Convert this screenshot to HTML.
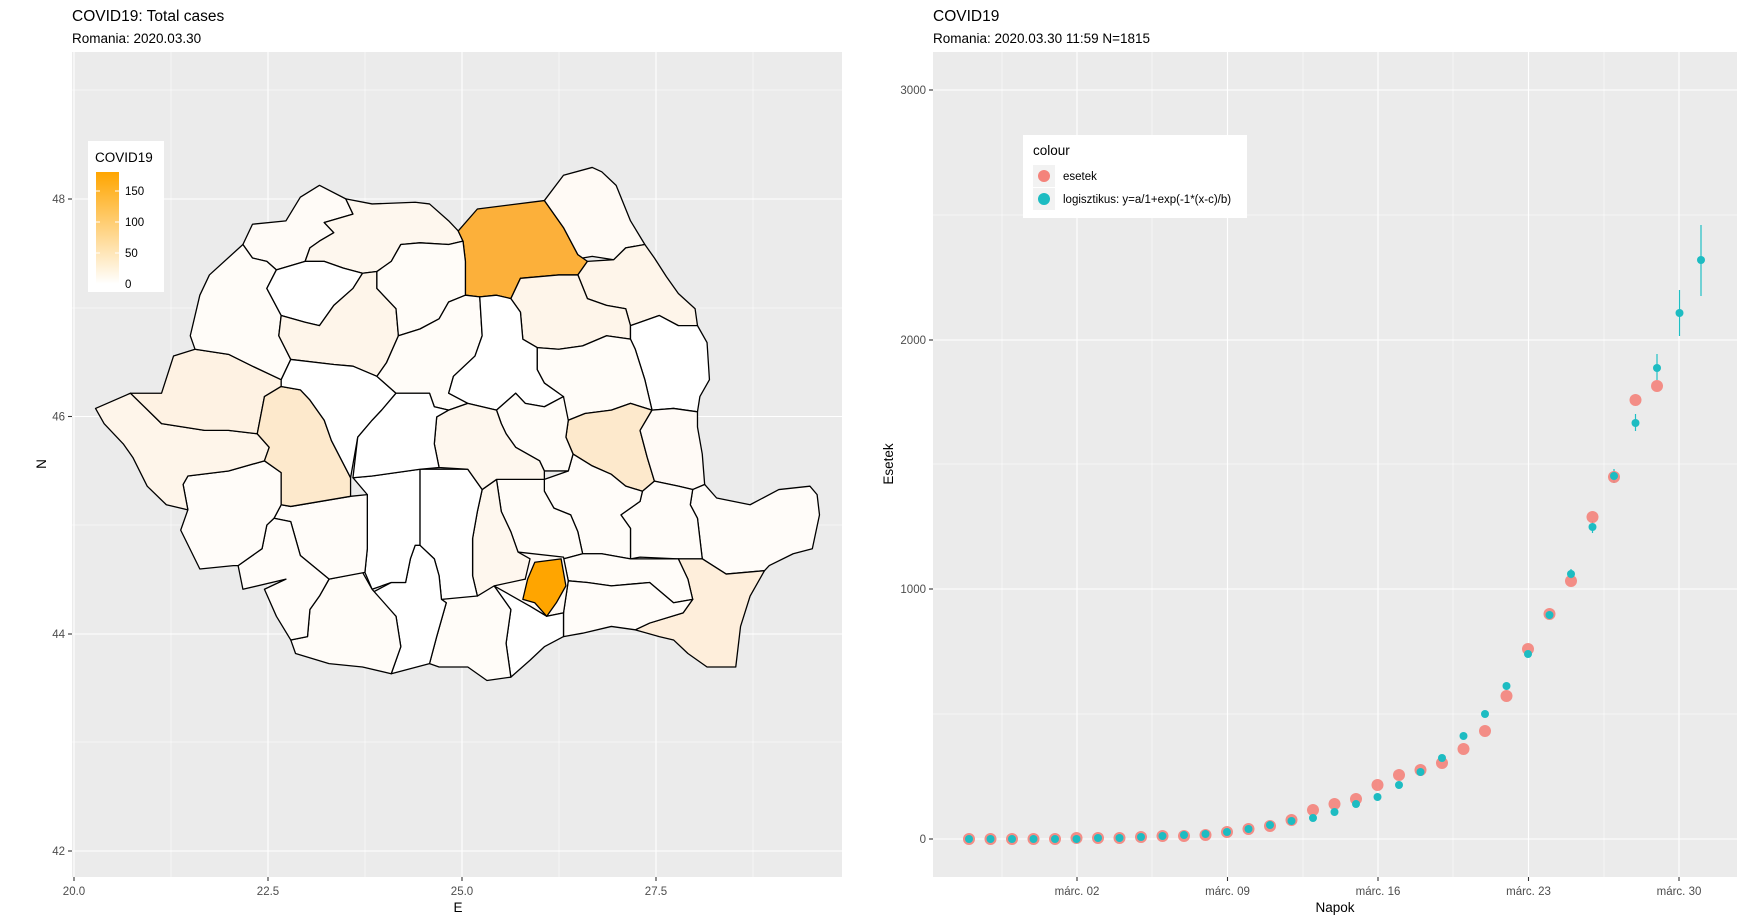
<!DOCTYPE html>
<html><head><meta charset="utf-8"><style>
html,body{margin:0;padding:0;background:#fff;}
svg{display:block;font-family:"Liberation Sans",Arial,sans-serif;}
.g{stroke:#fff;stroke-width:1.1;}
.gm{stroke:#fff;stroke-width:0.55;}
.tk{fill:#4d4d4d;font-size:11.5px;}
.m polygon{stroke:#000;stroke-width:1.3;stroke-linejoin:round;vector-effect:non-scaling-stroke;}
</style></head><body>
<svg width="1745" height="922" viewBox="0 0 1745 922" xmlns="http://www.w3.org/2000/svg">
<!-- LEFT PANEL -->
<text x="72" y="21" font-size="15.5" fill="#000">COVID19: Total cases</text>
<text x="72" y="43" font-size="13.5" fill="#000">Romania: 2020.03.30</text>
<rect x="72" y="52" width="770" height="825" fill="#ebebeb"/>
<g class="gm">
<line x1="72" x2="842" y1="90" y2="90"/><line x1="72" x2="842" y1="308" y2="308"/><line x1="72" x2="842" y1="525" y2="525"/><line x1="72" x2="842" y1="742" y2="742"/>
<line x1="171" x2="171" y1="52" y2="877"/><line x1="365" x2="365" y1="52" y2="877"/><line x1="559" x2="559" y1="52" y2="877"/><line x1="753" x2="753" y1="52" y2="877"/>
</g>
<g class="g">
<line x1="72" x2="842" y1="199" y2="199"/><line x1="72" x2="842" y1="416.5" y2="416.5"/><line x1="72" x2="842" y1="634" y2="634"/><line x1="72" x2="842" y1="851" y2="851"/>
<line x1="74" x2="74" y1="52" y2="877"/><line x1="268" x2="268" y1="52" y2="877"/><line x1="462" x2="462" y1="52" y2="877"/><line x1="656" x2="656" y1="52" y2="877"/>
</g>
<g stroke="#333" stroke-width="1.1">
<line x1="68" x2="72" y1="199" y2="199"/><line x1="68" x2="72" y1="416.5" y2="416.5"/><line x1="68" x2="72" y1="634" y2="634"/><line x1="68" x2="72" y1="851" y2="851"/>
<line x1="74" x2="74" y1="877" y2="881"/><line x1="268" x2="268" y1="877" y2="881"/><line x1="462" x2="462" y1="877" y2="881"/><line x1="656" x2="656" y1="877" y2="881"/>
</g>
<g class="tk" text-anchor="end">
<text x="65" y="203">48</text><text x="65" y="420.5">46</text><text x="65" y="638">44</text><text x="65" y="855">42</text>
</g>
<g class="tk" text-anchor="middle">
<text x="74" y="895">20.0</text><text x="268" y="895">22.5</text><text x="462" y="895">25.0</text><text x="656" y="895">27.5</text>
</g>
<text x="458" y="912" font-size="13.5" text-anchor="middle">E</text>
<text transform="translate(46,464) rotate(-90)" font-size="13.5" text-anchor="middle">N</text>

<!-- MAP -->
<g class="m" transform="translate(85,160) scale(0.4785,0.3380)">
<polygon fill="#fffbf7" points="330,250 350,190 420,180 450,110 490,75 545,115 560,160 500,185 520,215 490,240 470,260 460,300 400,325 380,300 350,290"/>
<polygon fill="#fef7ee" points="545,115 600,130 690,125 720,130 760,180 780,210 790,240 760,250 700,245 660,250 640,300 610,330 580,335 540,320 500,300 460,300 470,260 490,240 520,215 500,185 560,160"/>
<polygon fill="#fcb03a" points="780,210 820,145 960,120 1000,200 1030,280 1050,300 1030,340 990,340 910,350 890,410 860,400 825,405 795,400 795,300 790,240"/>
<polygon fill="#fffaf5" points="960,120 1000,45 1060,22 1080,35 1110,75 1140,180 1170,250 1130,260 1105,295 1060,285 1040,290 1030,280 1000,200"/>
<polygon fill="#fef5ea" points="1170,250 1190,290 1215,345 1240,395 1275,440 1280,490 1240,490 1200,460 1140,490 1130,440 1090,430 1050,410 1030,340 1050,300 1105,295 1130,260"/>
<polygon fill="#fef5ea" points="910,350 990,340 1030,340 1050,410 1090,430 1130,440 1140,490 1140,530 1090,520 1040,550 990,560 945,555 915,530 910,450 890,410"/>
<polygon fill="#ffffff" points="1140,490 1200,460 1240,490 1280,490 1300,540 1305,650 1285,700 1280,745 1230,735 1185,740 1170,650 1150,560 1140,530"/>
<polygon fill="#fffcf8" points="945,555 990,560 1040,550 1090,520 1140,530 1150,560 1170,650 1185,740 1140,720 1100,740 1045,750 1010,770 990,690 960,660 945,620"/>
<polygon fill="#fde9cc" points="1010,770 1045,750 1100,740 1140,720 1185,740 1160,800 1175,880 1190,950 1165,980 1130,965 1100,930 1060,905 1020,870 1005,820"/>
<polygon fill="#fffaf6" points="1185,740 1230,735 1280,745 1280,790 1290,870 1295,960 1270,975 1240,965 1190,950 1175,880 1160,800"/>
<polygon fill="#fffcf9" points="1295,960 1320,1000 1390,1020 1450,975 1515,965 1530,990 1535,1050 1520,1150 1480,1165 1430,1200 1420,1215 1340,1225 1290,1180 1280,1060 1265,1020 1270,975"/>
<polygon fill="#fffcf9" points="1190,950 1240,965 1270,975 1265,1020 1280,1060 1290,1180 1240,1180 1160,1175 1140,1180 1140,1090 1120,1050 1160,1010 1165,980"/>
<polygon fill="#feeedb" points="1240,1180 1290,1180 1340,1225 1420,1215 1390,1290 1370,1380 1360,1500 1300,1500 1260,1460 1230,1420 1200,1410 1150,1390 1180,1370 1250,1340 1270,1300 1260,1240"/>
<polygon fill="#fffcf9" points="960,945 1010,920 1020,870 1060,905 1100,930 1130,965 1165,980 1160,1010 1120,1050 1140,1090 1140,1180 1080,1165 1040,1165 1030,1100 1015,1050 980,1030 960,980"/>
<polygon fill="#fffcf8" points="860,945 960,945 960,980 980,1030 1015,1050 1030,1100 1040,1165 1000,1180 930,1180 905,1160 890,1100 870,1040"/>
<polygon fill="#fffcf9" points="1040,1165 1080,1165 1140,1180 1240,1180 1260,1240 1270,1300 1230,1310 1180,1250 1100,1260 1050,1250 1010,1245 1000,1180"/>
<polygon fill="#fffcf9" points="1010,1245 1050,1250 1100,1260 1180,1250 1230,1310 1270,1300 1250,1340 1180,1370 1150,1390 1100,1380 1040,1400 1000,1410 1000,1340"/>
<polygon fill="#fffaf5" points="905,1160 1000,1175 1010,1245 1000,1340 965,1350 930,1320 860,1290 855,1250 920,1240"/>
<polygon fill="#ffffff" points="855,1260 930,1320 965,1350 1000,1340 1000,1410 960,1440 930,1480 890,1530 880,1430 890,1330"/>
<polygon fill="#fffcf8" points="745,1300 800,1290 855,1260 890,1330 880,1430 890,1530 840,1540 800,1500 740,1500 720,1490 735,1410 755,1310"/>
<polygon fill="#fef7ee" points="830,975 860,945 870,1040 890,1100 905,1160 930,1180 920,1240 855,1260 820,1290 810,1230 810,1120 820,1040"/>
<polygon fill="#ffffff" points="700,915 800,915 830,975 820,1040 810,1120 810,1230 820,1290 745,1300 740,1230 730,1180 700,1140"/>
<polygon fill="#ffffff" points="690,1140 700,1140 730,1180 740,1230 745,1300 755,1310 735,1410 720,1490 640,1520 660,1440 650,1350 600,1280 640,1250 670,1250 680,1180"/>
<polygon fill="#ffffff" points="560,940 600,935 700,915 700,1140 690,1140 680,1180 670,1250 640,1250 600,1270 585,1220 590,1150 590,1040 590,990"/>
<polygon fill="#fffcf8" points="510,1240 580,1220 600,1270 650,1350 660,1440 640,1520 580,1500 510,1490 440,1460 430,1420 465,1410 470,1330 490,1290"/>
<polygon fill="#fffcf9" points="410,1020 430,1025 555,995 590,990 590,1040 590,1150 585,1220 510,1240 450,1170 430,1070 395,1060"/>
<polygon fill="#fffcf9" points="395,1060 430,1070 450,1170 510,1240 490,1290 470,1330 465,1410 430,1420 400,1350 375,1270 420,1240 330,1270 320,1200 370,1150 380,1080"/>
<polygon fill="#fffcf9" points="215,935 300,920 375,890 410,925 410,1020 395,1060 380,1080 370,1150 320,1200 310,1200 240,1210 200,1095 215,1035 205,960"/>
<polygon fill="#fef5ea" points="22,735 95,690 160,780 250,800 300,800 360,810 385,850 375,890 300,920 215,935 205,960 215,1035 170,1020 130,965 100,880 80,840 40,780"/>
<polygon fill="#fef2e3" points="95,690 160,690 185,580 230,560 300,575 350,610 410,650 410,670 375,700 360,810 300,800 250,800 160,780"/>
<polygon fill="#fde9cc" points="410,670 450,680 470,710 500,770 515,830 555,940 555,995 430,1025 410,1020 410,925 375,890 385,850 360,810 375,700"/>
<polygon fill="#fffcf8" points="230,560 220,520 240,400 260,340 330,250 350,290 380,300 400,325 380,380 410,460 405,520 430,590 410,650 350,610 300,575"/>
<polygon fill="#ffffff" points="400,325 460,300 500,300 540,320 580,335 560,380 520,430 490,490 460,480 410,460 380,380"/>
<polygon fill="#fef5ea" points="580,335 610,330 610,380 650,440 655,520 630,600 610,640 560,610 520,605 430,590 405,520 410,460 460,480 490,490 520,430 560,380"/>
<polygon fill="#fffcf8" points="640,300 660,250 700,245 760,250 790,240 795,300 795,400 760,420 740,470 700,500 655,520 650,440 610,380 610,330"/>
<polygon fill="#ffffff" points="430,590 520,605 560,610 610,640 650,690 620,740 600,770 570,820 555,940 515,830 500,770 470,710 450,680 410,670 410,650"/>
<polygon fill="#fffcf8" points="655,520 700,500 740,470 760,420 795,400 825,405 830,520 815,580 770,640 760,690 800,720 760,740 730,730 720,690 650,690 610,640 630,600"/>
<polygon fill="#ffffff" points="825,405 860,400 890,410 910,450 915,530 945,555 945,620 960,660 990,690 1000,700 960,730 920,720 900,690 860,740 800,720 760,690 770,640 815,580 830,520"/>
<polygon fill="#fffcf8" points="860,740 900,690 920,720 960,730 1000,700 1010,770 1005,820 1020,870 1010,920 960,920 950,890 900,850 880,810 870,780"/>
<polygon fill="#fef7ee" points="735,760 760,740 800,720 860,740 870,780 880,810 900,850 950,890 960,920 960,945 860,945 830,975 800,915 740,910 730,840"/>
<polygon fill="#ffffff" points="560,940 570,820 600,770 620,740 650,690 720,690 730,730 760,740 735,760 730,840 740,910 700,915 600,935"/>
<polygon fill="#ffa500" points="940,1190 995,1180 1005,1260 985,1310 965,1350 940,1310 915,1300 925,1240"/>
</g>

<!-- left legend -->
<rect x="88" y="141" width="76" height="151" fill="#fff"/>
<text x="95" y="162" font-size="13.5">COVID19</text>
<defs><linearGradient id="cb" x1="0" y1="1" x2="0" y2="0">
<stop offset="0" stop-color="#ffffff"/><stop offset="1" stop-color="#ffa500"/></linearGradient></defs>
<rect x="96" y="172" width="23" height="112" fill="url(#cb)"/>
<g stroke="#fff" stroke-width="1"><line x1="96" x2="100" y1="191" y2="191"/><line x1="115" x2="119" y1="191" y2="191"/>
<line x1="96" x2="100" y1="222" y2="222"/><line x1="115" x2="119" y1="222" y2="222"/>
<line x1="96" x2="100" y1="253" y2="253"/><line x1="115" x2="119" y1="253" y2="253"/></g>
<g font-size="11.5" fill="#000"><text x="125" y="195">150</text><text x="125" y="226">100</text><text x="125" y="257">50</text><text x="125" y="288">0</text></g>

<!-- RIGHT PANEL -->
<text x="933" y="21" font-size="15.5">COVID19</text>
<text x="933" y="43" font-size="13.5">Romania: 2020.03.30 11:59 N=1815</text>
<rect x="933" y="52" width="804" height="825" fill="#ebebeb"/>
<g class="gm">
<line x1="933" x2="1737" y1="215" y2="215"/><line x1="933" x2="1737" y1="464" y2="464"/><line x1="933" x2="1737" y1="714" y2="714"/>
<line x1="1002" x2="1002" y1="52" y2="877"/><line x1="1152" x2="1152" y1="52" y2="877"/><line x1="1303" x2="1303" y1="52" y2="877"/><line x1="1453" x2="1453" y1="52" y2="877"/><line x1="1604" x2="1604" y1="52" y2="877"/>
</g>
<g class="g">
<line x1="933" x2="1737" y1="90" y2="90"/><line x1="933" x2="1737" y1="340" y2="340"/><line x1="933" x2="1737" y1="589" y2="589"/><line x1="933" x2="1737" y1="839" y2="839"/>
<line x1="1077" x2="1077" y1="52" y2="877"/><line x1="1227.5" x2="1227.5" y1="52" y2="877"/><line x1="1378" x2="1378" y1="52" y2="877"/><line x1="1528.5" x2="1528.5" y1="52" y2="877"/><line x1="1679" x2="1679" y1="52" y2="877"/>
</g>
<g stroke="#333" stroke-width="1.1">
<line x1="929" x2="933" y1="90" y2="90"/><line x1="929" x2="933" y1="340" y2="340"/><line x1="929" x2="933" y1="589" y2="589"/><line x1="929" x2="933" y1="839" y2="839"/>
<line x1="1077" x2="1077" y1="877" y2="881"/><line x1="1227.5" x2="1227.5" y1="877" y2="881"/><line x1="1378" x2="1378" y1="877" y2="881"/><line x1="1528.5" x2="1528.5" y1="877" y2="881"/><line x1="1679" x2="1679" y1="877" y2="881"/>
</g>
<g class="tk" text-anchor="end">
<text x="926" y="94">3000</text><text x="926" y="344">2000</text><text x="926" y="593">1000</text><text x="926" y="843">0</text>
</g>
<g class="tk" text-anchor="middle">
<text x="1077" y="895">márc. 02</text><text x="1227.5" y="895">márc. 09</text><text x="1378" y="895">márc. 16</text><text x="1528.5" y="895">márc. 23</text><text x="1679" y="895">márc. 30</text>
</g>
<text x="1335" y="912" font-size="13.5" text-anchor="middle">Napok</text>
<text transform="translate(893,464) rotate(-90)" font-size="13.5" text-anchor="middle">Esetek</text>

<!-- error bars -->
<g stroke="#1fbfc4" stroke-width="1.2">
<line x1="1701" x2="1701" y1="225" y2="296"/><line x1="1679.5" x2="1679.5" y1="290" y2="336"/><line x1="1657" x2="1657" y1="354" y2="380"/><line x1="1635.5" x2="1635.5" y1="414" y2="431"/><line x1="1614" x2="1614" y1="469" y2="483"/><line x1="1592.5" x2="1592.5" y1="521" y2="533"/><line x1="1571" x2="1571" y1="569" y2="579"/>
</g>
<!-- red points -->
<g fill="#f4837b" fill-opacity="0.9">
<circle cx="969" cy="839" r="6"/><circle cx="990.5" cy="839" r="6"/><circle cx="1012" cy="839" r="6"/><circle cx="1033.5" cy="839" r="6"/><circle cx="1055" cy="839" r="6"/>
<circle cx="1076.5" cy="838" r="6"/><circle cx="1098" cy="838" r="6"/><circle cx="1119.5" cy="838" r="6"/><circle cx="1141" cy="837" r="6"/><circle cx="1162.5" cy="836" r="6"/>
<circle cx="1184" cy="836" r="6"/><circle cx="1205.5" cy="835" r="6"/><circle cx="1227" cy="832" r="6"/><circle cx="1248.5" cy="829" r="6"/><circle cx="1270" cy="826" r="6"/>
<circle cx="1291.5" cy="820" r="6"/><circle cx="1313" cy="810" r="6"/><circle cx="1334.5" cy="804" r="6"/><circle cx="1356" cy="799" r="6"/><circle cx="1377.5" cy="785" r="6"/>
<circle cx="1399" cy="775" r="6"/><circle cx="1420.5" cy="770" r="6"/><circle cx="1442" cy="763" r="6"/><circle cx="1463.5" cy="749" r="6"/><circle cx="1485" cy="731" r="6"/>
<circle cx="1506.5" cy="696" r="6"/><circle cx="1528" cy="649" r="6"/><circle cx="1549.5" cy="614" r="6"/><circle cx="1571" cy="581" r="6"/><circle cx="1592.5" cy="517" r="6"/>
<circle cx="1614" cy="477" r="6"/><circle cx="1635.5" cy="400" r="6"/><circle cx="1657" cy="386" r="6"/>
</g>
<!-- cyan points -->
<g fill="#1dbcc2">
<circle cx="969" cy="839" r="4"/><circle cx="990.5" cy="839" r="4"/><circle cx="1012" cy="839" r="4"/><circle cx="1033.5" cy="839" r="4"/><circle cx="1055" cy="839" r="4"/>
<circle cx="1076.5" cy="839" r="4"/><circle cx="1098" cy="838" r="4"/><circle cx="1119.5" cy="838" r="4"/><circle cx="1141" cy="837" r="4"/><circle cx="1162.5" cy="836" r="4"/>
<circle cx="1184" cy="835" r="4"/><circle cx="1205.5" cy="834" r="4"/><circle cx="1227" cy="832" r="4"/><circle cx="1248.5" cy="829" r="4"/><circle cx="1270" cy="825" r="4"/>
<circle cx="1291.5" cy="821" r="4"/><circle cx="1313" cy="818" r="4"/><circle cx="1334.5" cy="812" r="4"/><circle cx="1356" cy="804" r="4"/><circle cx="1377.5" cy="797" r="4"/>
<circle cx="1399" cy="785" r="4"/><circle cx="1420.5" cy="772" r="4"/><circle cx="1442" cy="758" r="4"/><circle cx="1463.5" cy="736" r="4"/><circle cx="1485" cy="714" r="4"/>
<circle cx="1506.5" cy="686" r="4"/><circle cx="1528" cy="654" r="4"/><circle cx="1549.5" cy="615" r="4"/><circle cx="1571" cy="574" r="4"/><circle cx="1592.5" cy="527" r="4"/>
<circle cx="1614" cy="476" r="4"/><circle cx="1635.5" cy="423" r="4"/><circle cx="1657" cy="368" r="4"/><circle cx="1679.5" cy="313" r="4"/><circle cx="1701" cy="260" r="4"/>
</g>

<!-- right legend -->
<rect x="1023" y="135" width="224" height="83" fill="#fff"/>
<text x="1033" y="155" font-size="13.5">colour</text>
<rect x="1033" y="165" width="22" height="22" fill="#f2f2f2"/>
<rect x="1033" y="188" width="22" height="22" fill="#f2f2f2"/>
<circle cx="1044" cy="176" r="6" fill="#f4837b"/>
<circle cx="1044" cy="199" r="6" fill="#1dbcc2"/>
<text x="1063" y="180" font-size="11.5">esetek</text>
<text x="1063" y="203" font-size="11.5">logisztikus: y=a/1+exp(-1*(x-c)/b)</text>
</svg>
</body></html>
